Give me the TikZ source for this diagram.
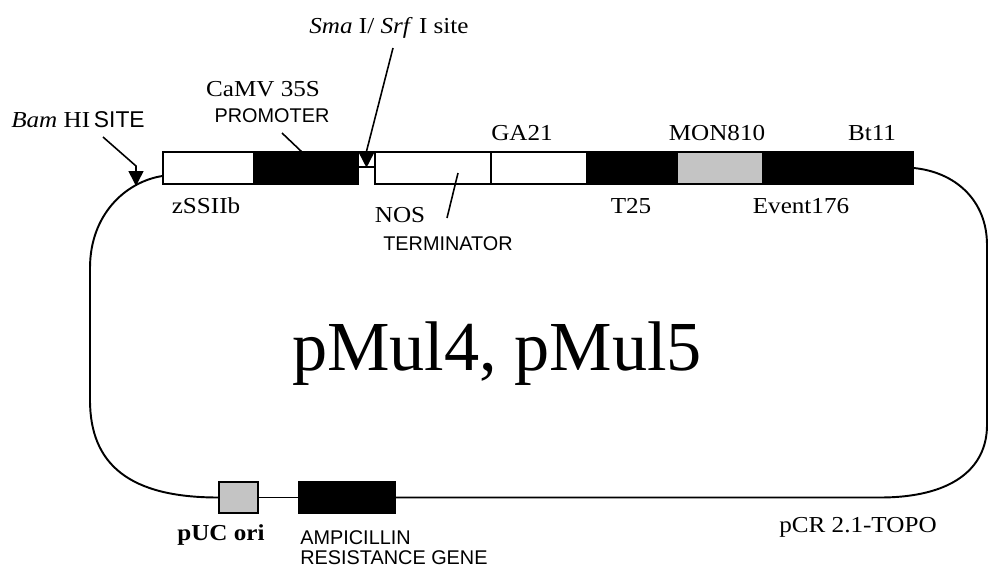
\documentclass[tikz,border=0pt]{standalone}
\usepackage{fontspec}
\setmainfont{Liberation Serif}
\setsansfont{Liberation Sans}
\newfontfamily\stretchSerif[FakeStretch=1.1]{Liberation Serif}
\usetikzlibrary{arrows.meta,positioning}
\definecolor{colorGrey}{HTML}{C4C4C4}
\def\colorGrey{colorGrey}

\tikzset{
  geneBox/.style={draw=black, line width=0.8pt, inner sep=0pt, minimum height=0.64cm},
  geneWhite/.style={geneBox, fill=white},
  geneBlack/.style={geneBox, fill=black},
  geneGrey/.style={geneBox, fill=\colorGrey},
  serifLabel/.style={anchor=base, inner sep=0pt, font=\stretchSerif\fontsize{13pt}{15pt}\selectfont},
  sansLabel/.style={anchor=base, inner sep=0pt, font=\sffamily\fontsize{11.3pt}{13pt}\selectfont},
  siteArrow/.style={line width=0.9pt, -{Triangle[width=0.30cm,length=0.30cm]}},
  pointer/.style={line width=0.9pt},
  backbone/.style={line width=1.1pt}
}

\begin{document}
\begin{tikzpicture}[x=0.02cm, y=-0.02cm]
  \useasboundingbox (0,0) rectangle (990,568);

  % Cassette du haut
  \node[geneWhite, minimum width=1.82cm] (zssiib) at (208.5,168) {};
  \node[geneBlack, minimum width=2.08cm] (camv) at (306,168) {};
  \node[geneWhite, minimum width=0.34cm, minimum height=0.30cm] (smaBox) at (366.5,159.5) {};
  \node[geneWhite, minimum width=2.32cm] (nos) at (433,168) {};
  \node[geneWhite, minimum width=1.92cm] (ga21) at (539,168) {};
  \node[geneBlack, minimum width=1.80cm] (t25) at (632,168) {};
  \node[geneGrey, minimum width=1.72cm] (mon810) at (720,168) {};
  \node[geneBlack, minimum width=3.00cm] (bt11) at (838,168) {};

  % Vecteur du bas
  \node[geneGrey, minimum width=0.78cm, minimum height=0.62cm] (puc) at (238.5,497.5) {};
  \node[geneBlack, minimum width=1.92cm, minimum height=0.62cm] (amp) at (347,497.5) {};

  % Squelette du plasmide
  \draw[backbone] ([yshift=-0.16cm]zssiib.west) .. controls (125,182) and (90,215) .. (90,268)
    -- (90,400) .. controls (90,465) and (130,497.5) .. (puc.west);
  \draw[backbone] (puc.east) -- (amp.west);
  \draw[backbone] (amp.east) -- (880,497.5) .. controls (950,497.5) and (987,470) .. (987,425)
    -- (987,245) .. controls (987,200) and (955,172) .. (bt11.east);

  % Sites de restriction
  \coordinate (bamTail) at (103,137);
  \coordinate (bamBend) at (136,166);
  \coordinate (bamSite) at (136,186);
  \draw[siteArrow] (bamTail) -- (bamBend) -- (bamSite);
  \coordinate (smaTail) at (393,48);
  \draw[siteArrow] (smaTail) -- (smaBox.north) -- (smaBox.south);

  % Traits de rappel
  \coordinate (camvTail) at (282,133);
  \coordinate (camvHead) at (303,153);
  \draw[pointer] (camvTail) -- (camvHead);
  \coordinate (nosTail) at (447,218);
  \coordinate (nosHead) at (458,173);
  \draw[pointer] (nosTail) -- (nosHead);

  % Étiquettes
  \node[serifLabel] (smaLabel) at (389,33) {\textit{Sma} I/ \textit{Srf} I site};
  \node[serifLabel] (camvLabel) at (263,96) {CaMV 35S};
  \node[sansLabel] (promLabel) at (272,122) {PROMOTER};
  \node[serifLabel] (bamLabel) at (78,127) {\textit{Bam} HI\,\textsf{SITE}};
  \node[serifLabel] (zssiibLabel) at (206,213) {zSSIIb};
  \node[serifLabel] (nosLabel) at (400,222) {NOS};
  \node[sansLabel] (termLabel) at (448,250) {TERMINATOR};
  \node[serifLabel] (ga21Label) at (522,140) {GA21};
  \node[serifLabel] (monLabel) at (717,140) {MON810};
  \node[serifLabel] (bt11Label) at (872,140) {Bt11};
  \node[serifLabel] (t25Label) at (631,213) {T25};
  \node[serifLabel] (eventLabel) at (801,213) {Event176};
  \node[serifLabel, font=\stretchSerif\bfseries\fontsize{13pt}{15pt}\selectfont] (pucLabel) at (221,540) {pUC ori};
  \node[sansLabel, anchor=base west] (ampLabel) at (300,544) {AMPICILLIN};
  \node[sansLabel, anchor=base west] (resLabel) at (300,564) {RESISTANCE GENE};
  \node[serifLabel] (pcrLabel) at (858,532) {pCR 2.1-TOPO};
  \node[anchor=base, inner sep=0pt, font=\fontsize{40pt}{44pt}\selectfont] (title) at (497,370) {pMul4, pMul5};

\end{tikzpicture}
\end{document}
